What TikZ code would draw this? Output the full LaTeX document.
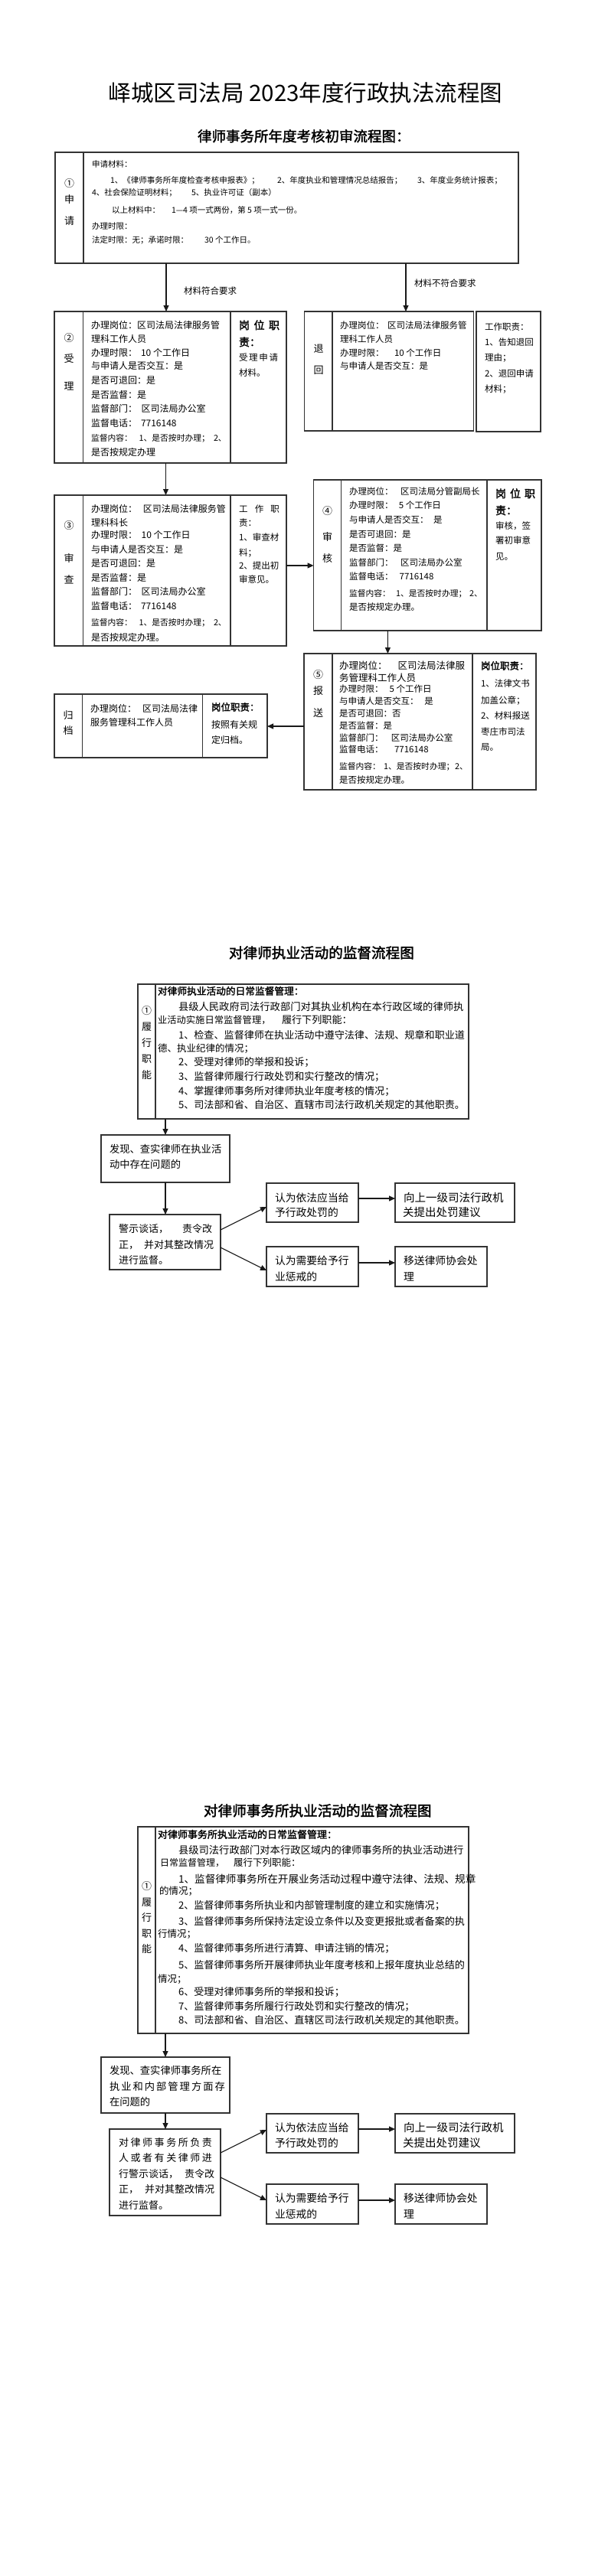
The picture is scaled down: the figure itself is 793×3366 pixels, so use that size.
\documentclass[tikz,border=0pt]{standalone}
\usepackage{fontspec}
\setmainfont{Noto Sans CJK SC}[AutoFakeBold=2]
\usetikzlibrary{arrows.meta,calc}
\newcounter{tn}
\newcommand\FS[1]{\fontsize{#1pt}{#1pt}\selectfont}
\newcommand\TL[4]{\stepcounter{tn}\node[tx,font=\FS{#3}] (t\arabic{tn}) at ({#1},{#2+0.37*#3}) {#4};}
\newcommand\TB[4]{\stepcounter{tn}\node[tx,font={\FS{#3}\bfseries}] (t\arabic{tn}) at ({#1},{#2+0.37*#3}) {#4};}
\newcommand\TC[4]{\stepcounter{tn}\node[tx,anchor=base,font=\FS{#3}] (t\arabic{tn}) at ({#1},{#2+0.37*#3}) {#4};}
\newcommand\TJ[5]{\stepcounter{tn}\node[tx,font=\FS{#3}] (t\arabic{tn}) at ({#1},{#2+0.37*#3}) {\makebox[#4pt][s]{#5}};}
\newcommand\TJB[5]{\stepcounter{tn}\node[tx,font={\FS{#3}\bfseries}] (t\arabic{tn}) at ({#1},{#2+0.37*#3}) {\makebox[#4pt][s]{#5}};}
\newcommand\BX[5]{\node[bx,minimum width={#4pt-#2pt},minimum height={#5pt-#3pt}] (#1) at (#2,#3) {};}
\tikzset{
  tx/.style={anchor=base west,inner sep=0pt,outer sep=0pt},
  bx/.style={draw=black!80,line width=1.1pt,anchor=north west,inner sep=0pt,outer sep=0pt},
  ln/.style={draw=black!80,line width=1.1pt},
  arr/.style={draw=black!90,line width=1.1pt,-{Triangle[length=8pt,width=7pt]}}
}
\begin{document}
\begin{tikzpicture}[x=1pt,y=-1pt]
\fill[white] (0,0) rectangle (793,3366);
\useasboundingbox (0,0) rectangle (793,3366);

% ================= PAGE 1 =================
\TC{399}{122}{29.5}{峄城区司法局 2023年度行政执法流程图}
\TB{258}{178}{18.5}{律师事务所年度考核初审流程图：}

% box 1
\BX{b1}{72}{199}{677}{344}
\draw[ln] (109,199) -- (109,344);
\TC{90.5}{240}{13}{①}
\TC{90.5}{261}{13}{申}
\TC{90.5}{289}{13}{请}
\TL{120}{215}{10.5}{申请材料：}
\TL{144}{236}{10.5}{1、《律师事务所年度检查考核申报表》；}
\TL{362}{236}{10.5}{2、年度执业和管理情况总结报告；}
\TL{545}{236}{10.5}{3、年度业务统计报表；}
\TL{120}{252}{10.5}{4、社会保险证明材料；}
\TL{250}{252}{10.5}{5、执业许可证（副本）}
\TL{146}{275}{10.5}{以上材料中：}
\TL{224}{275}{10.5}{1—4 项一式两份，第 5 项一式一份。}
\TL{120}{296}{10.5}{办理时限：}
\TL{120}{314}{10.5}{法定时限：无；承诺时限：}
\TL{267}{314}{10.5}{30 个工作日。}

% box 受理
\BX{r2}{71}{407}{374}{605}
\draw[ln] (108.5,407) -- (108.5,605);
\draw[ln] (301,407) -- (301,605);
\TC{90}{442}{13}{②}
\TC{90}{469}{13}{受}
\TC{90}{505}{13}{理}
\TL{119}{425}{12}{办理岗位：区司法局法律服务管}
\TL{119}{443}{12}{理科工作人员}
\TL{119}{461}{12}{办理时限：}
\TL{184}{461}{12}{10 个工作日}
\TL{119}{478}{12}{与申请人是否交互：是}
\TL{119}{497}{12}{是否可退回：是}
\TL{119}{516}{12}{是否监督：是}
\TL{119}{534}{12}{监督部门：}
\TL{184.6}{534}{12}{区司法局办公室}
\TL{119}{553}{12}{监督电话：}
\TL{184}{553}{12}{7716148}
\TL{119}{573}{10.8}{监督内容：}
\TL{181.6}{573}{10.8}{1、是否按时办理；}
\TL{279}{573}{10.8}{2、}
\TL{119}{591}{12}{是否按规定办理}
\TJB{312}{425}{14}{53}{岗 位 职}
\TB{312}{447}{14}{责：}
\TJ{312}{467}{11.5}{50}{受 理 申 请}
\TL{312}{487}{11.5}{材料。}

% box 退回
\BX{rt}{397.5}{407}{618.5}{563}
\draw[ln] (434,407) -- (434,563);
\TC{416}{456}{13}{退}
\TC{416}{484}{13}{回}
\TL{444}{425}{11.5}{办理岗位：}
\TL{506}{425}{11.5}{区司法局法律服务管}
\TL{444}{443}{11.5}{理科工作人员}
\TL{444}{461}{11.5}{办理时限：}
\TL{515}{461}{11.5}{10 个工作日}
\TL{444}{478}{11.5}{与申请人是否交互：是}
\BX{rz}{622}{407}{706}{564}
\TL{633}{427}{11.5}{工作职责：}
\TL{633}{447}{11.5}{1、告知退回}
\TL{633}{467}{11.5}{理由；}
\TL{633}{488}{11.5}{2、退回申请}
\TL{633}{508}{11.5}{材料；}

% arrows from box 1
\draw[arr] ($(b1.south west)+(145,0)$) -- ($(r2.north west)+(146,0)$);
\draw[arr] ($(b1.south west)+(458,0)$) -- ($(rt.north west)+(132.5,0)$);
\TL{240}{380}{11.5}{材料符合要求}
\TL{541}{370}{11.5}{材料不符合要求}

% box 审查
\BX{r3}{71}{647}{374}{844}
\draw[ln] (108.5,647) -- (108.5,844);
\draw[ln] (301,647) -- (301,844);
\TC{90}{687}{13}{③}
\TC{90}{730}{13}{审}
\TC{90}{758}{13}{查}
\TL{119}{665}{12}{办理岗位：}
\TL{186.8}{665}{12}{区司法局法律服务管}
\TL{119}{683}{12}{理科科长}
\TL{119}{699}{12}{办理时限：}
\TL{184.6}{699}{12}{10 个工作日}
\TL{119}{718}{12}{与申请人是否交互：是}
\TL{119}{736}{12}{是否可退回：是}
\TL{119}{755}{12}{是否监督：是}
\TL{119}{773}{12}{监督部门：}
\TL{184.6}{773}{12}{区司法局办公室}
\TL{119}{792}{12}{监督电话：}
\TL{184}{792}{12}{7716148}
\TL{119}{813}{10.8}{监督内容：}
\TL{181.6}{813}{10.8}{1、是否按时办理；}
\TL{279}{813}{10.8}{2、}
\TL{119}{833}{12}{是否按规定办理。}
\TJ{312}{665}{11.5}{53}{工 作 职}
\TL{312}{683}{11.5}{责：}
\TL{312}{702}{11.5}{1、审查材}
\TL{312}{722}{11.5}{料；}
\TL{312}{739}{11.5}{2、提出初}
\TL{312}{757}{11.5}{审意见。}
\draw[arr] ($(r2.south west)+(145.5,0)$) -- ($(r3.north west)+(145.5,0)$);

% box 审核
\BX{r4}{409.6}{627}{707}{824}
\draw[ln] (445.8,627) -- (445.8,824);
\draw[ln] (636,627) -- (636,824);
\TC{427.7}{668}{13}{④}
\TC{427.7}{702}{13}{审}
\TC{427.7}{730}{13}{核}
\TL{456}{642}{11.5}{办理岗位：}
\TL{523}{642}{11.5}{区司法局分管副局长}
\TL{456}{660}{11.5}{办理时限：}
\TL{520.8}{660}{11.5}{5 个工作日}
\TL{456}{679}{11.5}{与申请人是否交互：}
\TL{566}{679}{11.5}{是}
\TL{456}{698}{11.5}{是否可退回：是}
\TL{456}{716}{11.5}{是否监督：是}
\TL{456}{735}{11.5}{监督部门：}
\TL{523}{735}{11.5}{区司法局办公室}
\TL{456}{753}{11.5}{监督电话：}
\TL{521.7}{753}{11.5}{7716148}
\TL{456}{775}{10.8}{监督内容：}
\TL{517}{775}{10.8}{1、是否按时办理；}
\TL{613}{775}{10.8}{2、}
\TL{456}{793}{11.5}{是否按规定办理。}
\TJB{647}{645}{14}{52}{岗 位 职}
\TB{647}{667}{14}{责：}
\TL{647}{687}{11.5}{审核，签}
\TL{647}{706}{11.5}{署初审意}
\TL{647}{727}{11.5}{见。}
\draw[arr] ($(r3.north east)+(0,92)$) -- ($(r4.north west)+(0,112)$);

% box 报送
\BX{r5}{397}{854}{700}{1032}
\draw[ln] (434,854) -- (434,1032);
\draw[ln] (617,854) -- (617,1032);
\TC{415.5}{882}{13}{⑤}
\TC{415.5}{903}{13}{报}
\TC{415.5}{932}{13}{送}
\TL{443}{870}{12.5}{办理岗位：}
\TL{519.5}{870}{12.5}{区司法局法律服}
\TL{443}{886}{12.5}{务管理科工作人员}
\TL{443}{900}{11.5}{办理时限：}
\TL{508.6}{900}{11.5}{5 个工作日}
\TL{443}{916}{11.5}{与申请人是否交互：}
\TL{554.4}{916}{11.5}{是}
\TL{443}{932}{11.5}{是否可退回：否}
\TL{443}{948}{11.5}{是否监督：是}
\TL{443}{964}{11.5}{监督部门：}
\TL{510.8}{964}{11.5}{区司法局办公室}
\TL{443}{979}{11.5}{监督电话：}
\TL{515}{979}{11.5}{7716148}
\TL{443}{1001}{10.8}{监督内容：}
\TL{501}{1001}{10.8}{1、是否按时办理；}
\TL{594}{1001}{10.8}{2、}
\TL{443}{1019}{11.5}{是否按规定办理。}
\TB{628}{870}{12.5}{岗位职责：}
\TL{628}{893}{11.5}{1、法律文书}
\TL{628}{915}{11.5}{加盖公章；}
\TL{628}{935}{11.5}{2、材料报送}
\TL{628}{956}{11.5}{枣庄市司法}
\TL{628}{976}{11.5}{局。}
\draw[arr] ($(r4.south west)+(96.8,0)$) -- ($(r5.north west)+(109.4,0)$);

% box 归档
\BX{r6}{71}{907}{349}{990}
\draw[ln] (107.5,907) -- (107.5,990);
\draw[ln] (264.5,907) -- (264.5,990);
\TC{89}{935}{13}{归}
\TC{89}{955}{13}{档}
\TL{118}{926}{12}{办理岗位：}
\TL{186}{926}{12}{区司法局法律}
\TL{118}{944}{12}{服务管理科工作人员}
\TB{276}{924}{12.5}{岗位职责：}
\TL{276}{947}{12}{按照有关规}
\TL{276}{967}{12}{定归档。}
\draw[arr] ($(r5.north west)+(0,95)$) -- ($(r6.north east)+(0,42)$);

% ================= PAGE 2 =================
\TB{299}{1245}{18.6}{对律师执业活动的监督流程图}
\BX{p2a}{180}{1286}{612}{1462}
\draw[ln] (203,1286) -- (203,1462);
\TC{191.5}{1321}{13}{①}
\TC{191.5}{1342}{13}{履}
\TC{191.5}{1363}{13}{行}
\TC{191.5}{1384}{13}{职}
\TC{191.5}{1405}{13}{能}
\TB{206}{1295}{12.7}{对律师执业活动的日常监督管理：}
\TL{233}{1316}{13.3}{县级人民政府司法行政部门对其执业机构在本行政区域的律师执}
\TL{206}{1333}{12.3}{业活动实施日常监督管理，}
\TL{368}{1333}{13.1}{履行下列职能：}
\TL{233}{1353}{13.1}{1、检查、监督律师在执业活动中遵守法律、法规、规章和职业道}
\TL{206}{1370}{12.5}{德、执业纪律的情况；}
\TL{233}{1388}{13.1}{2、受理对律师的举报和投诉；}
\TL{233}{1407}{13.1}{3、监督律师履行行政处罚和实行整改的情况；}
\TL{233}{1426}{13.1}{4、掌握律师事务所对律师执业年度考核的情况；}
\TL{233}{1444}{13.1}{5、司法部和省、自治区、直辖市司法行政机关规定的其他职责。}

\BX{p2b}{132}{1483}{300}{1545}
\TL{143}{1502}{13.3}{发现、查实律师在执业活}
\TL{143}{1522}{13.3}{动中存在问题的}
\BX{p2c}{143}{1587}{288}{1659}
\TL{155}{1606}{13}{警示谈话，}
\TL{238}{1606}{13}{责令改}
\TL{155}{1627}{13}{正，}
\TL{188}{1627}{13}{并对其整改情况}
\TL{155}{1647}{13}{进行监督。}
\BX{p2d}{348}{1546}{468}{1597}
\TL{359}{1565}{13.8}{认为依法应当给}
\TL{359}{1584}{13.8}{予行政处罚的}
\BX{p2e}{516}{1546}{672}{1597}
\TL{527}{1565}{14.5}{向上一级司法行政机}
\TL{526}{1584}{14.5}{关提出处罚建议}
\BX{p2f}{348}{1629}{468}{1681}
\TL{359}{1647}{13.8}{认为需要给予行}
\TL{359}{1668}{13.8}{业惩戒的}
\BX{p2g}{516}{1629}{636}{1681}
\TL{527}{1647}{13.8}{移送律师协会处}
\TL{527}{1668}{13.8}{理}
\draw[arr] ($(p2a.south west)+(36,0)$) -- ($(p2b.north west)+(84,0)$);
\draw[arr] ($(p2b.south west)+(84,0)$) -- ($(p2c.north west)+(73,0)$);
\draw[arr] ($(p2c.north east)+(0,20)$) -- ($(p2d.north west)+(0,31)$);
\draw[arr] ($(p2c.north east)+(0,43)$) -- ($(p2f.north west)+(0,31)$);
\draw[arr] ($(p2d.north east)+(0,20)$) -- ($(p2e.north west)+(0,20)$);
\draw[arr] ($(p2f.north east)+(0,21)$) -- ($(p2g.north west)+(0,21)$);

% ================= PAGE 3 =================
\TB{266}{2366}{18.6}{对律师事务所执业活动的监督流程图}
\BX{p3a}{180}{2387}{612}{2657}
\draw[ln] (203,2387) -- (203,2657);
\TC{191.5}{2465}{13}{①}
\TC{191.5}{2486}{13}{履}
\TC{191.5}{2506}{13}{行}
\TC{191.5}{2527}{13}{职}
\TC{191.5}{2547}{13}{能}
\TB{206}{2397}{13}{对律师事务所执业活动的日常监督管理：}
\TL{233}{2418}{13.3}{县级司法行政部门对本行政区域内的律师事务所的执业活动进行}
\TL{209}{2434}{12}{日常监督管理，}
\TL{305}{2434}{12.5}{履行下列职能：}
\TL{233}{2455}{13.6}{1、监督律师事务所在开展业务活动过程中遵守法律、法规、规章}
\TL{208}{2471}{12.5}{的情况；}
\TL{233}{2490}{13.1}{2、监督律师事务所执业和内部管理制度的建立和实施情况；}
\TL{233}{2511}{13.1}{3、监督律师事务所保持法定设立条件以及变更报批或者备案的执}
\TL{206}{2527}{12.5}{行情况；}
\TL{233}{2546}{13.1}{4、监督律师事务所进行清算、申请注销的情况；}
\TL{233}{2568}{13.1}{5、监督律师事务所开展律师执业年度考核和上报年度执业总结的}
\TL{206}{2586}{12.5}{情况；}
\TL{233}{2603}{13.1}{6、受理对律师事务所的举报和投诉；}
\TL{233}{2622}{13.1}{7、监督律师事务所履行行政处罚和实行整改的情况；}
\TL{233}{2640}{13.1}{8、司法部和省、自治区、直辖区司法行政机关规定的其他职责。}

\BX{p3b}{132}{2688}{300}{2761}
\TL{143}{2706}{13.3}{发现、查实律师事务所在}
\TJ{143}{2727}{13.3}{146}{执 业 和 内 部 管 理 方 面 存}
\TL{143}{2747}{13.3}{在问题的}
\BX{p3c}{143}{2782}{288}{2895}
\TJ{155}{2800}{13}{122}{对 律 师 事 务 所 负 责}
\TJ{155}{2820}{13}{122}{人 或 者 有 关 律 师 进}
\TL{155}{2841}{13}{行警示谈话，}
\TL{241}{2841}{13}{责令改}
\TL{155}{2861}{13}{正，}
\TL{189}{2861}{13}{并对其整改情况}
\TL{155}{2882}{13}{进行监督。}
\BX{p3d}{348}{2762}{468}{2813}
\TL{359}{2780}{13.8}{认为依法应当给}
\TL{359}{2800}{13.8}{予行政处罚的}
\BX{p3e}{516}{2762}{672}{2813}
\TL{527}{2780}{14.5}{向上一级司法行政机}
\TL{526}{2800}{14.5}{关提出处罚建议}
\BX{p3f}{348}{2854}{468}{2906}
\TL{359}{2872}{13.8}{认为需要给予行}
\TL{359}{2893}{13.8}{业惩戒的}
\BX{p3g}{516}{2854}{636}{2906}
\TL{527}{2872}{13.8}{移送律师协会处}
\TL{527}{2893}{13.8}{理}
\draw[arr] ($(p3a.south west)+(36,0)$) -- ($(p3b.north west)+(84,0)$);
\draw[arr] ($(p3b.south west)+(84,0)$) -- ($(p3c.north west)+(73,0)$);
\draw[arr] ($(p3c.north east)+(0,31)$) -- ($(p3d.north west)+(0,21)$);
\draw[arr] ($(p3c.north east)+(0,63)$) -- ($(p3f.north west)+(0,21)$);
\draw[arr] ($(p3d.north east)+(0,20)$) -- ($(p3e.north west)+(0,20)$);
\draw[arr] ($(p3f.north east)+(0,21)$) -- ($(p3g.north west)+(0,21)$);
\end{tikzpicture}
\end{document}
